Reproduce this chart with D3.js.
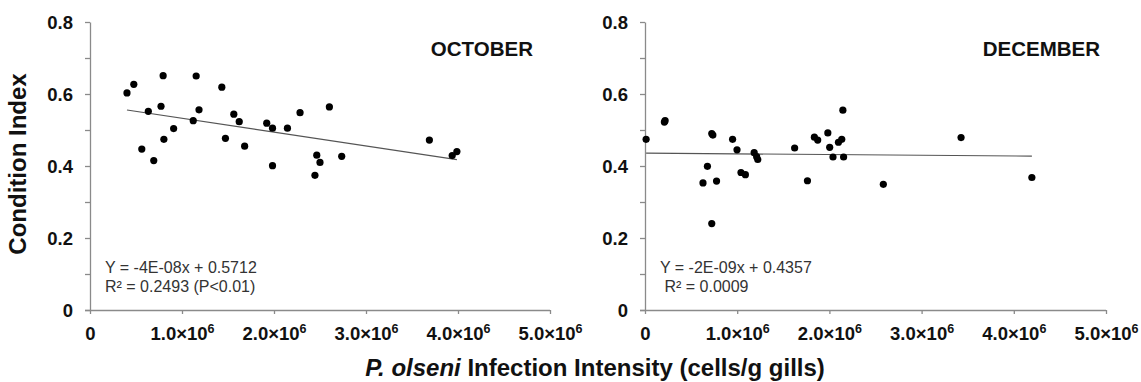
<!DOCTYPE html>
<html>
<head>
<meta charset="utf-8">
<script src="https://cdn.jsdelivr.net/npm/d3@7"></script>
<style>
  body { margin: 0; background: #fff; }
  svg { display: block; font-family: "Liberation Sans", Arial, sans-serif; }
  .axis path, .axis line { stroke: #8a8a8a; stroke-width: 1.3; }
</style>
</head>
<body>
<svg id="chart" width="1141" height="382"></svg>
<script>
// ---- data, x in cells/g gills, y = condition index ----
const octX = [0.402e6, 0.476e6, 0.563e6, 0.634e6, 0.693e6, 0.772e6, 0.795e6, 0.803e6, 0.909e6, 1.122e6,
              1.154e6, 1.185e6, 1.433e6, 1.472e6, 1.563e6, 1.622e6, 1.681e6, 1.921e6, 1.984e6, 1.984e6,
              2.146e6, 2.283e6, 2.445e6, 2.465e6, 2.500e6, 2.602e6, 2.736e6, 3.689e6, 3.937e6, 3.988e6];
const octY = [0.603, 0.627, 0.447, 0.552, 0.415, 0.566, 0.651, 0.474, 0.504, 0.526,
              0.650, 0.556, 0.619, 0.477, 0.544, 0.523, 0.455, 0.519, 0.505, 0.401,
              0.505, 0.548, 0.374, 0.430, 0.410, 0.564, 0.427, 0.472, 0.429, 0.440];

const decX = [0.012e6, 0.210e6, 0.218e6, 0.629e6, 0.677e6, 0.724e6, 0.736e6, 0.776e6, 0.724e6, 0.950e6,
              0.998e6, 1.041e6, 1.089e6, 1.184e6, 1.211e6, 1.223e6, 1.623e6, 1.762e6, 1.837e6, 1.873e6,
              1.983e6, 2.003e6, 2.039e6, 2.098e6, 2.134e6, 2.146e6, 2.154e6, 2.585e6, 3.428e6, 4.196e6];
const decY = [0.474, 0.522, 0.526, 0.353, 0.399, 0.490, 0.486, 0.358, 0.240, 0.474,
              0.445, 0.382, 0.376, 0.437, 0.426, 0.418, 0.450, 0.359, 0.480, 0.472,
              0.492, 0.452, 0.425, 0.466, 0.474, 0.555, 0.425, 0.349, 0.479, 0.368];

// linear fits: [slope, intercept]
const octFit = [-3.85e-8, 0.5712];
const decFit = [-2e-9, 0.4357];

const panelTitles = ["OCTOBER", "DECEMBER"];
const eqLines = [
  ["Y = -4E-08x + 0.5712", "R\u00b2 = 0.2493 (P<0.01)"],
  ["Y = -2E-09x + 0.4357", " R\u00b2 = 0.0009"]
];
const xTickVals = [0, 1e6, 2e6, 3e6, 4e6, 5e6];
const yTickVals = [0, 0.1, 0.2, 0.3, 0.4, 0.5, 0.6, 0.7, 0.8];

const yAxisTitle = "Condition Index";
const xAxisTitleItalic = "P. olseni";
const xAxisTitleRest = " Infection Intensity (cells/g gills)";

const svg = d3.select("#chart");

const panels = [
  { xs: octX, ys: octY, fit: octFit, x0: 90, x1: 550, title: panelTitles[0], titleX: 533, eq: eqLines[0], eqX: 105 },
  { xs: decX, ys: decY, fit: decFit, x0: 645, x1: 1106, title: panelTitles[1], titleX: 1100, eq: eqLines[1], eqX: 660 }
];

const y = d3.scaleLinear().domain([0, 0.8]).range([310, 22]);

panels.forEach(p => {
  const x = d3.scaleLinear().domain([0, 5e6]).range([p.x0, p.x1]);
  const g = svg.append("g");

  // y axis, minor ticks every 0.1, labels every 0.2
  const yAx = g.append("g").classed("axis", true)
    .attr("transform", `translate(${p.x0},0)`)
    .call(d3.axisLeft(y).tickValues(yTickVals).tickSize(5).tickSizeOuter(0).tickFormat(""));
  yAx.selectAll(".tick").each(function(d) {
    const k = Math.round(d * 10);
    if (k % 2 !== 0) return;
    d3.select(this).append("text")
      .attr("x", -17).attr("y", 6.5)
      .attr("fill", "#111").attr("font-weight", "bold").attr("font-size", 18.5)
      .attr("text-anchor", "end")
      .text(k === 0 ? "0" : d3.format(".1f")(d));
  });

  // x axis
  const xAx = g.append("g").classed("axis", true)
    .attr("transform", "translate(0,310)")
    .call(d3.axisBottom(x).tickValues(xTickVals).tickSize(4).tickSizeOuter(0).tickFormat(""));
  xAx.selectAll(".tick").each(function(d) {
    const t = d3.select(this).append("text")
      .attr("y", 30)
      .attr("fill", "#111").attr("font-weight", "bold").attr("font-size", 18.5)
      .attr("text-anchor", "middle");
    if (d === 0) {
      t.text("0");
    } else {
      t.append("tspan").text(d3.format(".1f")(d / 1e6) + "\u00d710");
      t.append("tspan").attr("font-size", 12.5).attr("dy", -7).text("6");
    }
  });
  xAx.select(".domain").attr("d", `M${p.x0 - 5},0.5H${p.x1}`);

  // trend line across the range of the data
  const xMin = d3.min(p.xs), xMax = d3.max(p.xs);
  const line = d3.line().x(d => x(d)).y(d => y(p.fit[0] * d + p.fit[1]));
  g.append("path").datum([xMin, xMax])
    .attr("d", line).attr("fill", "none")
    .attr("stroke", "#555").attr("stroke-width", 1.1);

  // points
  g.selectAll(".pt").data(d3.range(p.xs.length)).enter().append("circle")
    .classed("pt", true)
    .attr("cx", i => x(p.xs[i])).attr("cy", i => y(p.ys[i]))
    .attr("r", 3.6).attr("fill", "#000");

  // panel title
  g.append("text").attr("x", p.titleX).attr("y", 56)
    .attr("font-weight", "bold").attr("font-size", 20.5)
    .attr("text-anchor", "end").attr("fill", "#111").text(p.title);

  // equation
  p.eq.forEach((s, i) => {
    g.append("text").attr("x", p.eqX).attr("y", 273 + i * 18.5)
      .attr("font-size", 16).attr("fill", "#333")
      .style("white-space", "pre").text(s);
  });
});

// axis titles
svg.append("text")
  .attr("font-weight", "bold").attr("font-size", 24).attr("fill", "#111")
  .attr("text-anchor", "middle")
  .attr("transform", "translate(26,164) rotate(-90)")
  .text(yAxisTitle);

const xt = svg.append("text")
  .attr("x", 595).attr("y", 376)
  .attr("font-weight", "bold").attr("font-size", 24).attr("fill", "#111")
  .attr("text-anchor", "middle");
xt.append("tspan").attr("font-style", "italic").text(xAxisTitleItalic);
xt.append("tspan").text(xAxisTitleRest);
</script>
</body>
</html>
